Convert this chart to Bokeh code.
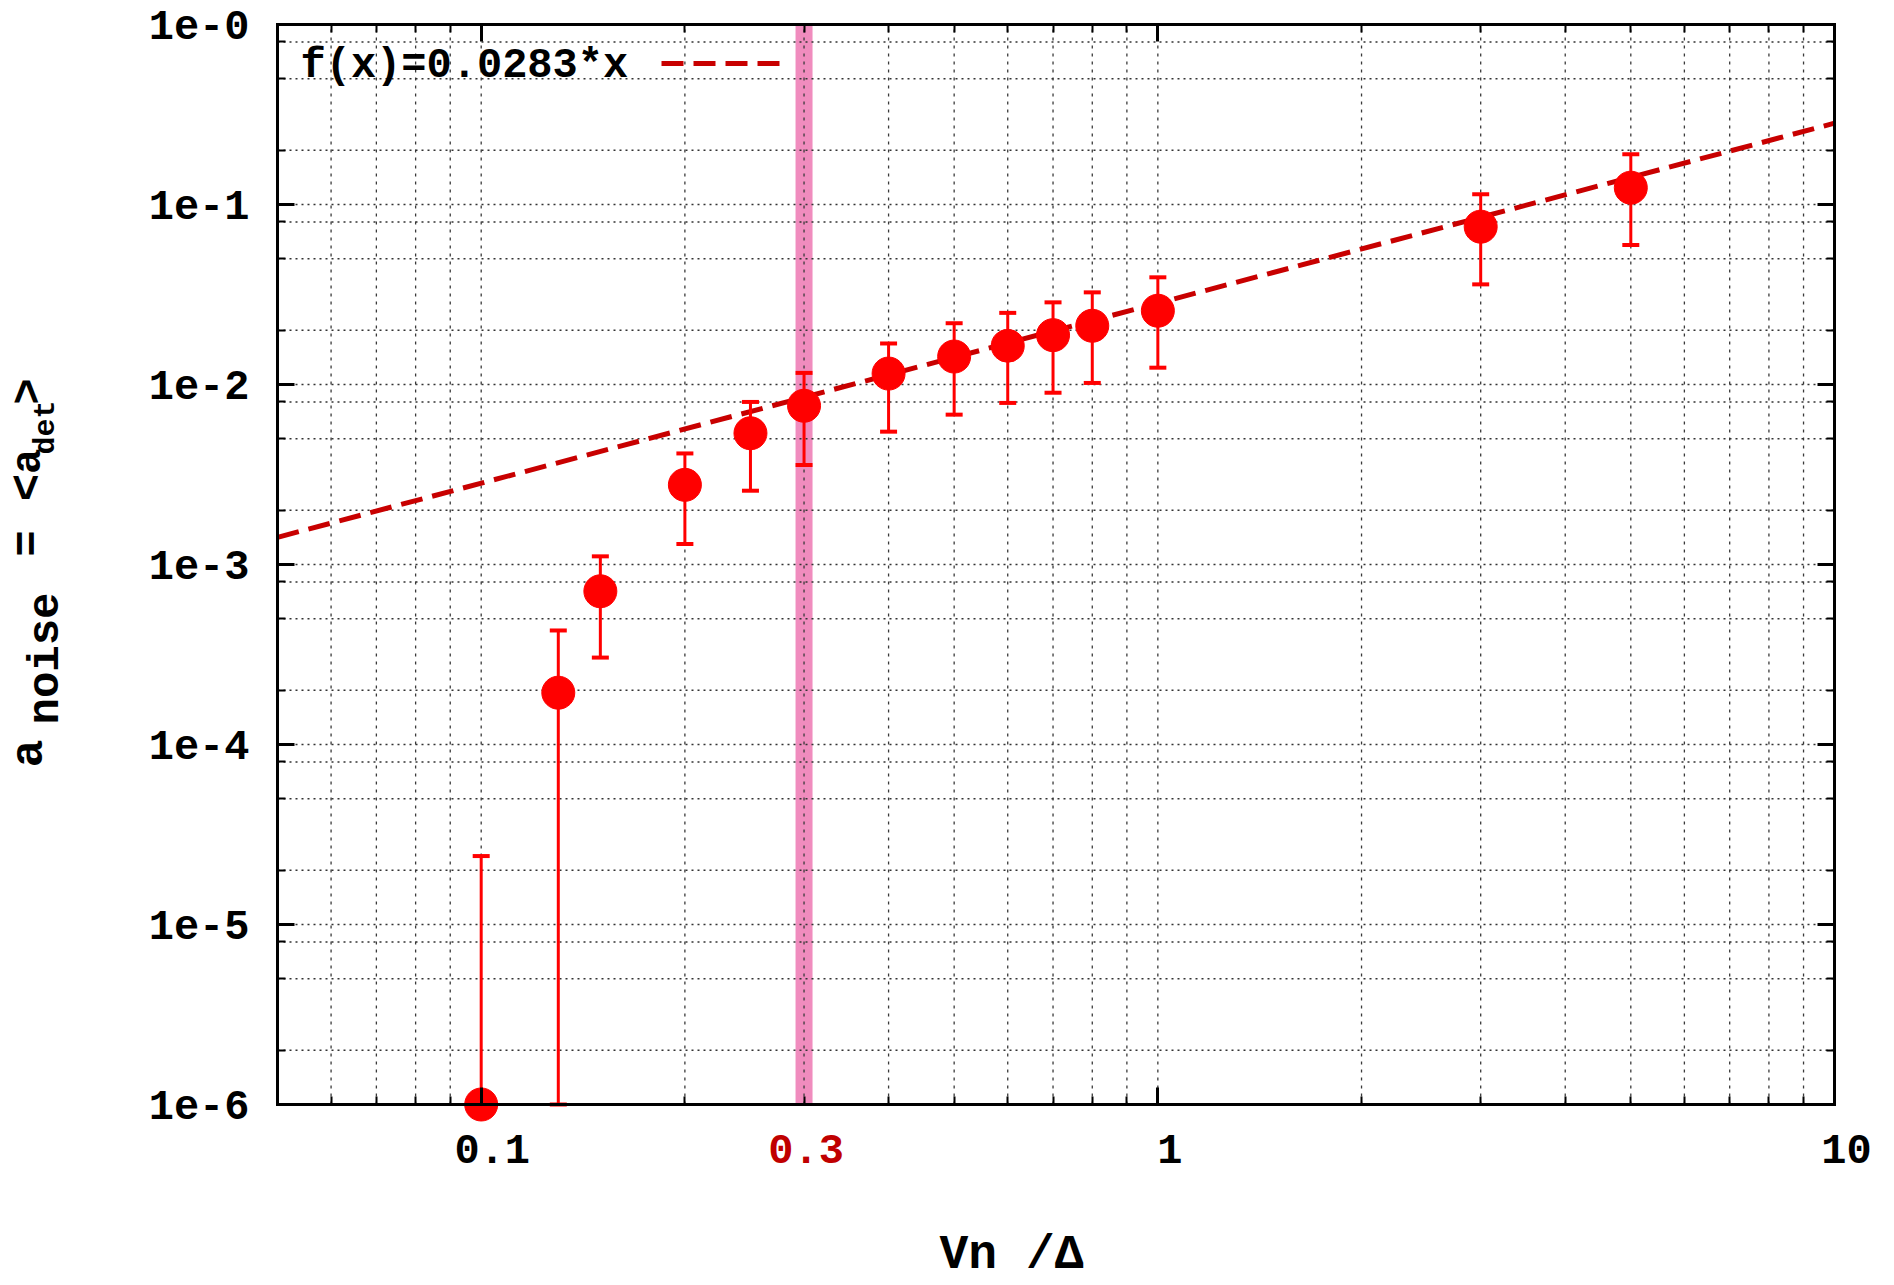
import math
from bokeh.plotting import figure
from bokeh.models import (FixedTicker, LogAxis, Label, CustomJSTickFormatter,
                          ColumnDataSource, Arrow, Range1d)
from bokeh.embed import file_html
from bokeh.resources import INLINE

# ---------------- data ----------------
x_vals  = [0.10, 0.13, 0.15, 0.20, 0.25, 0.30, 0.40, 0.50, 0.60, 0.70, 0.80, 1.00, 3.00, 5.00]
y_vals  = [1.0e-6, 1.94e-4, 7.1e-4, 2.77e-3, 5.36e-3, 7.62e-3, 1.15e-2, 1.43e-2, 1.64e-2, 1.88e-2, 2.12e-2, 2.57e-2, 7.53e-2, 0.124]
y_upper = [2.4e-5, 4.3e-4, 1.11e-3, 4.14e-3, 8.0e-3, 1.16e-2, 1.69e-2, 2.19e-2, 2.50e-2, 2.86e-2, 3.25e-2, 3.94e-2, 0.114, 0.190]
y_lower = [1.0e-6, 1.0e-6, 3.04e-4, 1.30e-3, 2.57e-3, 3.57e-3, 5.47e-3, 6.8e-3, 7.9e-3, 9.0e-3, 1.02e-2, 1.24e-2, 3.6e-2, 0.0596]

fit_coef = 0.0283
fit_label = "f(x)=0.0283*x"
threshold_x = [0.3]

x_lo, x_hi = 0.05, 10.0        # visible x axis
y_lo, y_hi = 1e-6, 1.0         # visible y axis

x_major = [0.1, 1.0, 10.0]
x_minor = [0.05, 0.06, 0.07, 0.08, 0.09, 0.2, 0.3, 0.4, 0.5, 0.6, 0.7, 0.8, 0.9,
           2, 3, 4, 5, 6, 7, 8, 9]
x_tick_labels = ["0.1", "0.3", "1", "10"]
x_tick_pos = [0.1, 0.3, 1.0, 10.0]
x_tick_colors = ["black", "#c00000", "black", "black"]

y_major = [1e-6, 1e-5, 1e-4, 1e-3, 1e-2, 1e-1, 1.0]
y_minor = [m * 10.0 ** e for e in range(-6, 0) for m in (2, 5, 8)]

x_title = "Vn /Δ"

FONT = "Liberation Mono"

# ---------------- layout (pixels) ----------------
W, H = 1894, 1285
PL, PR, PT, PB = 277, 1834, 24, 1104   # visible plot box in canvas pixels
BL = 15                                # baseline correction for alphabetic text

# extend the ranges so that the visible axis box lands at the pixel box above
xdec = (PR - PL) / (math.log10(x_hi) - math.log10(x_lo))
ydec = (PB - PT) / (math.log10(y_hi) - math.log10(y_lo))
xr = Range1d(10 ** (math.log10(x_lo) - PL / xdec), 10 ** (math.log10(x_hi) + (W - PR) / xdec))
yr = Range1d(10 ** (math.log10(y_lo) - (H - PB) / ydec), 10 ** (math.log10(y_hi) + PT / ydec))

p = figure(width=W, height=H, x_axis_type="log", y_axis_type="log",
           x_range=xr, y_range=yr, output_backend="svg", toolbar_location=None,
           min_border=0, min_border_left=0, min_border_right=0,
           min_border_top=0, min_border_bottom=0)
p.background_fill_color = "white"
p.border_fill_color = "white"
p.outline_line_color = None
p.xgrid.visible = False
p.ygrid.visible = False

xticker = FixedTicker(ticks=x_major, minor_ticks=x_minor)
yticker = FixedTicker(ticks=y_major, minor_ticks=y_minor)
empty_fmt = CustomJSTickFormatter(code="return '';")
ylab_fmt = CustomJSTickFormatter(code="return '1e-' + Math.round(-Math.log10(tick));")

def style_axis(ax, ticker, fmt, label_size, loc, bounds):
    ax.ticker = ticker
    ax.formatter = fmt
    ax.fixed_location = loc
    ax.bounds = bounds
    ax.axis_line_color = "black"
    ax.axis_line_width = 3
    ax.axis_line_cap = "square"
    ax.major_tick_in = 17
    ax.major_tick_out = 0
    ax.minor_tick_in = 8
    ax.minor_tick_out = 0
    ax.major_tick_line_width = 3
    ax.minor_tick_line_width = 2
    ax.major_tick_line_color = "black"
    ax.minor_tick_line_color = "black"
    ax.major_label_text_font = FONT
    ax.major_label_text_font_style = "bold"
    ax.major_label_text_font_size = label_size
    ax.major_label_text_color = "black"

style_axis(p.xaxis[0], xticker, empty_fmt, "2px", y_lo, (x_lo, x_hi))
style_axis(p.yaxis[0], yticker, ylab_fmt, "42px", x_lo, (y_lo, y_hi))
p.yaxis[0].major_label_standoff = 28

top_ax = LogAxis()
style_axis(top_ax, xticker, empty_fmt, "2px", y_hi, (x_lo, x_hi))
p.add_layout(top_ax, "above")

right_ax = LogAxis()
style_axis(right_ax, yticker, empty_fmt, "2px", x_hi, (y_lo, y_hi))
p.add_layout(right_ax, "right")

# threshold band
p.segment(x0=threshold_x, y0=[y_lo], x1=threshold_x, y1=[y_hi],
          line_color="#f08cbe", line_width=17, line_cap="butt")

# grid lines (from the tick arrays)
xg = x_major + x_minor
yg = y_major + y_minor
p.multi_line(xs=[[t, t] for t in xg], ys=[[y_lo, y_hi] for _ in xg],
             line_color="#3a3a3a", line_width=1.3, line_dash="3 5")
p.multi_line(xs=[[x_lo, x_hi] for _ in yg], ys=[[t, t] for t in yg],
             line_color="#333333", line_width=1.4, line_dash="2 4")

# fit line
x_fit = [x_lo, x_hi]
y_fit = [fit_coef * xv for xv in x_fit]
p.line(x_fit, y_fit, line_color="#c80000", line_width=5, line_dash="22 10")

# error bars + points
src = ColumnDataSource(dict(x=x_vals, y=y_vals, up=y_upper, lo=y_lower))
p.segment(x0="x", y0="lo", x1="x", y1="up", source=src, line_color="#ff0000", line_width=3)
p.scatter(x="x", y="up", source=src, marker="dash", size=17, line_color="#ff0000", line_width=4)
p.scatter(x="x", y="lo", source=src, marker="dash", size=17, line_color="#ff0000", line_width=4)
p.scatter(x="x", y="y", source=src, size=33, fill_color="#ff0000", line_color="#ff0000")

def sy(y_top):  # canvas-top pixel -> screen units (origin bottom-left)
    return H - y_top

# key
p.add_layout(Label(x=300, y=sy(65), x_units="screen", y_units="screen", text=fit_label,
                   text_font=FONT, text_font_style="bold", text_font_size="42px",
                   text_color="black", text_align="left", text_baseline="alphabetic"))
p.add_layout(Arrow(x_start=661, y_start=sy(63), x_end=779, y_end=sy(63),
                   start_units="screen", end_units="screen", start=None, end=None,
                   line_color="#c80000", line_width=5, line_dash="22 10"))

# x tick labels
x_offs = [11, 2, 12, 12]
for t, xv, c, dx in zip(x_tick_labels, x_tick_pos, x_tick_colors, x_offs):
    p.add_layout(Label(x=xv, y=sy(1163 - BL), y_units="screen", x_offset=dx, text=t,
                       text_font=FONT, text_font_style="bold", text_font_size="42px",
                       text_color=c, text_align="center", text_baseline="alphabetic"))

# x axis title
p.add_layout(Label(x=1011, y=sy(1273 - BL - 4), x_units="screen", y_units="screen", text=x_title,
                   text_font=FONT, text_font_style="bold", text_font_size="48px",
                   text_color="black", text_align="center", text_baseline="alphabetic"))

# y axis title pieces (rotated, centred on their ink along the vertical)
ypieces = [("a", "46px", 44, 753), ("noise", "44px", 60, 658), ("=", "44px", 43, 543),
           ("<", "46px", 43, 487), ("a", "42px", 43, 461), ("det", "30px", 60, 427),
           (">", "44px", 43, 391)]
for t, fs, px, py in ypieces:
    p.add_layout(Label(x=px - BL, y=sy(py), x_units="screen", y_units="screen", text=t,
                       angle=math.pi / 2, text_font=FONT, text_font_style="bold",
                       text_font_size=fs, text_color="black", text_align="center",
                       text_baseline="alphabetic"))

open("out.html", "w").write(file_html(p, INLINE))
